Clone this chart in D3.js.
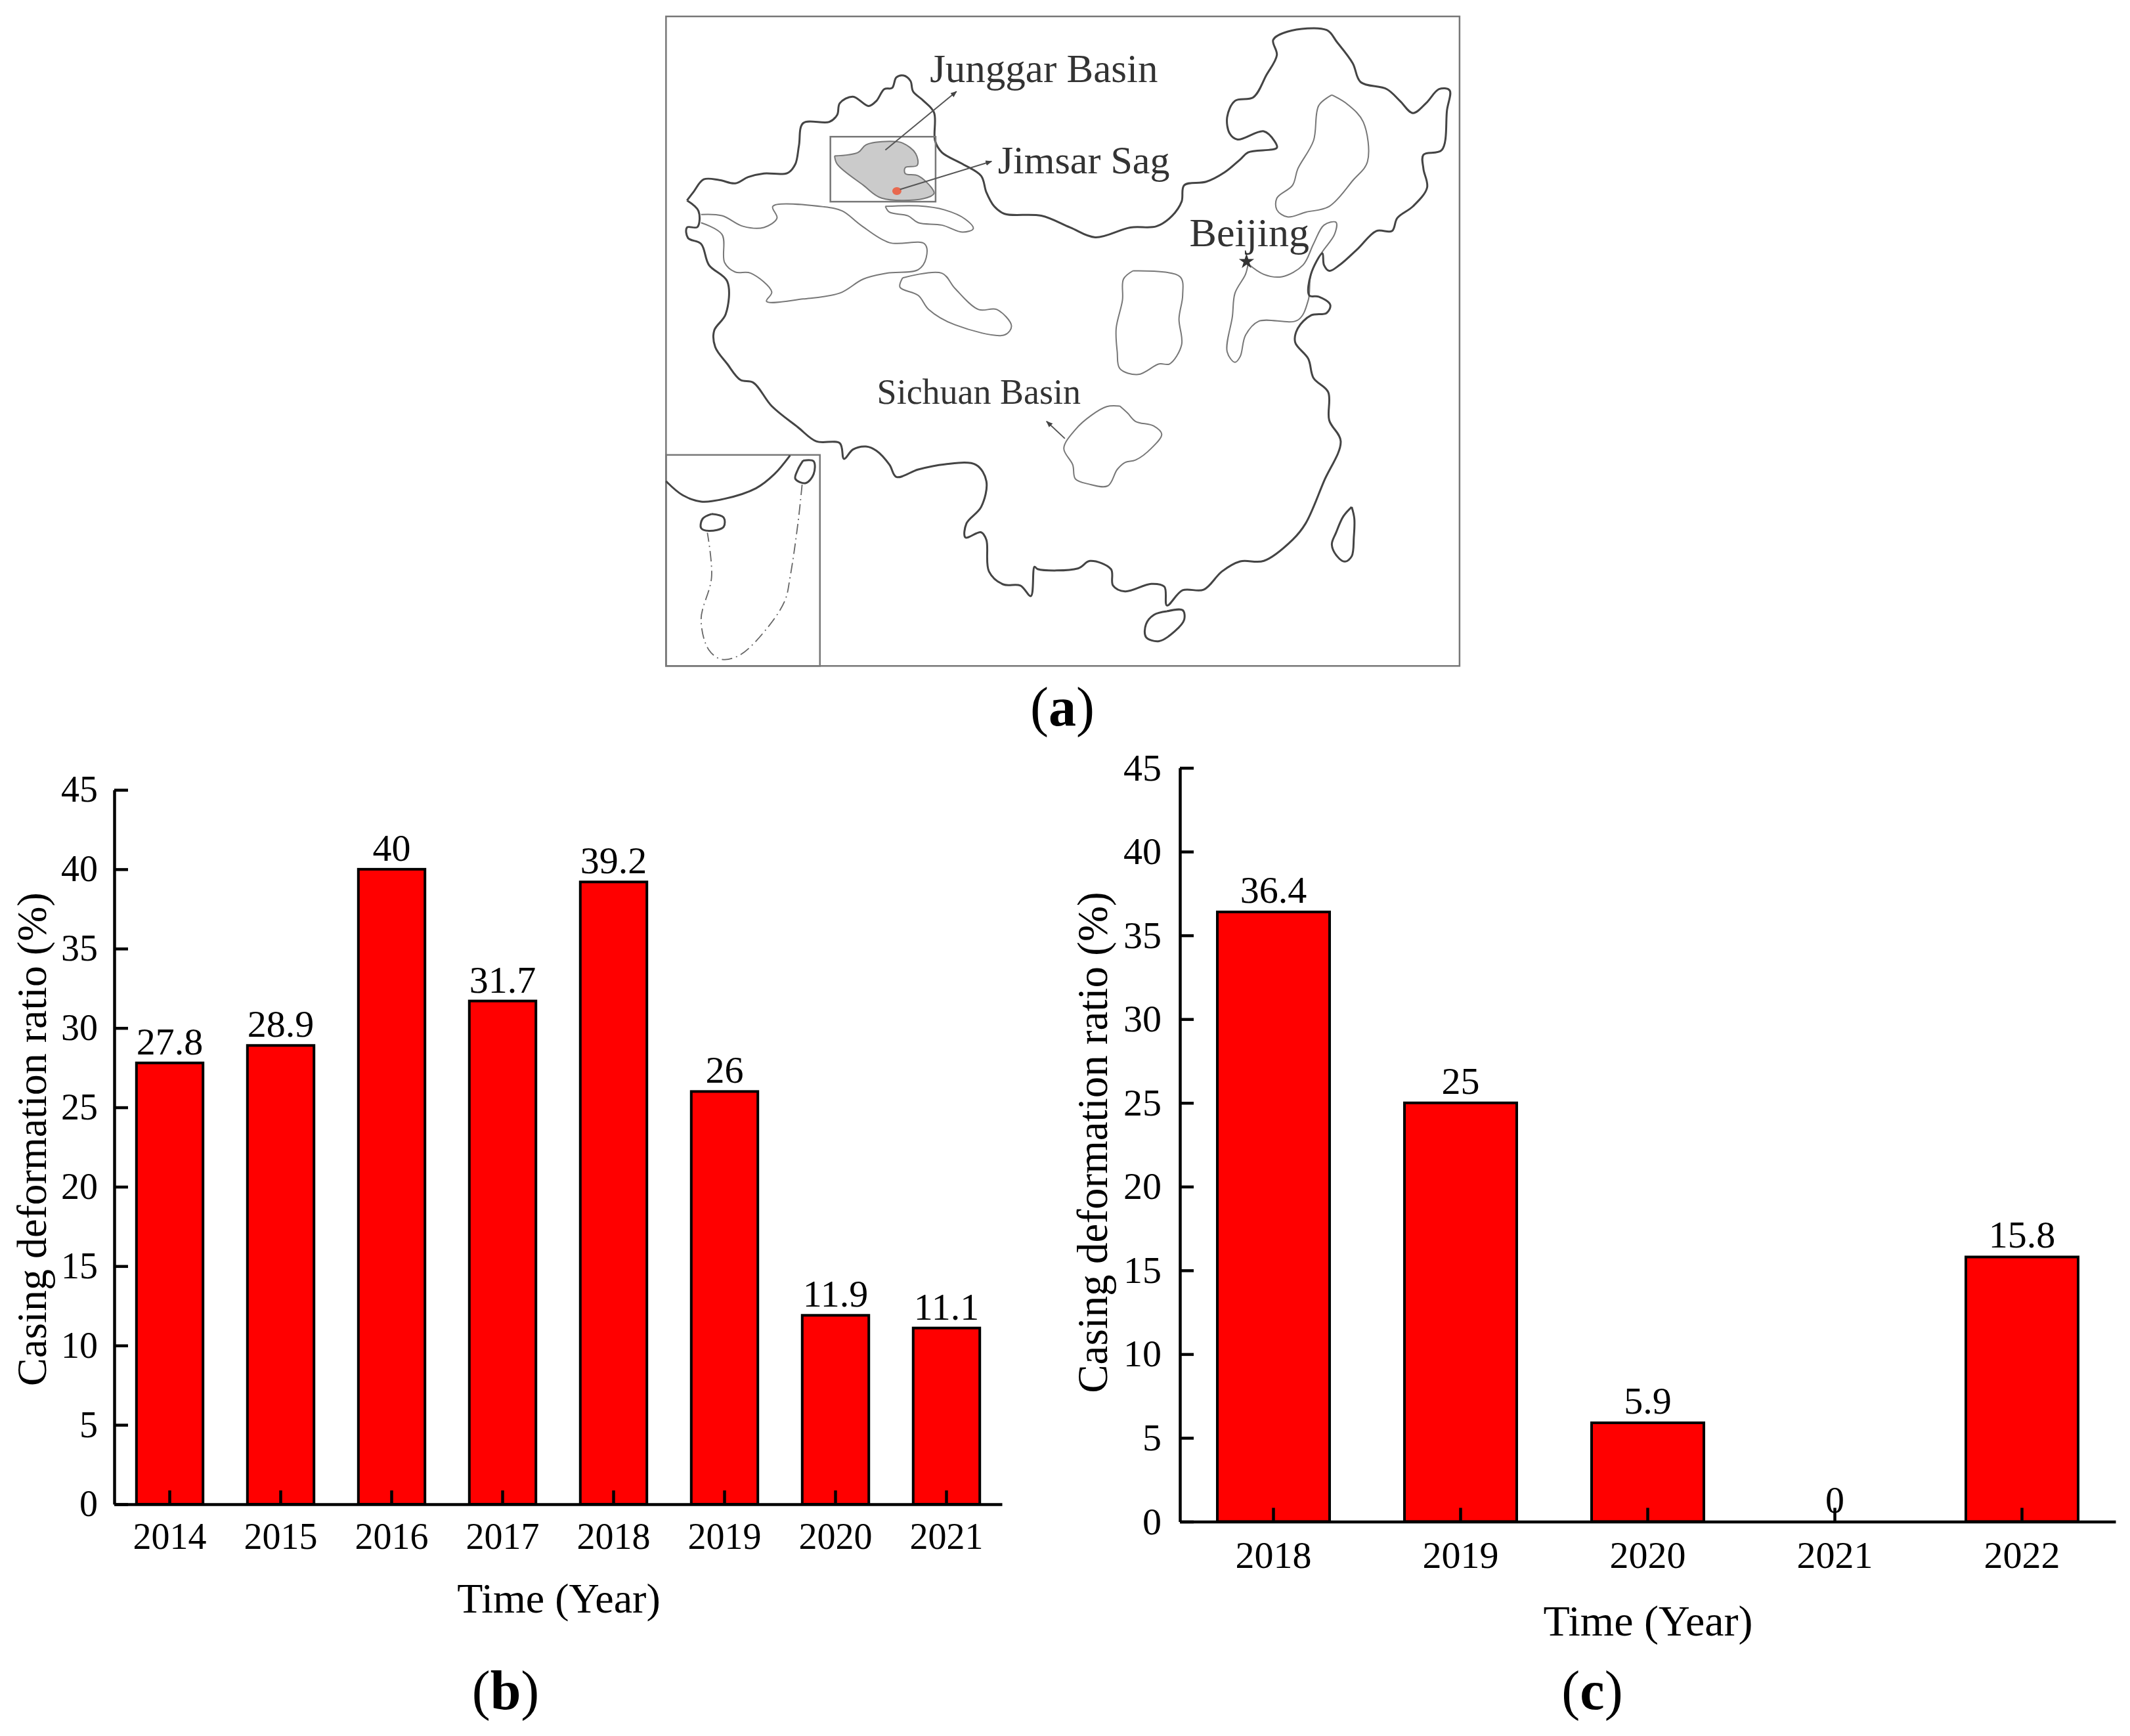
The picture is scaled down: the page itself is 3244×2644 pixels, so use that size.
<!DOCTYPE html>
<html>
<head>
<meta charset="utf-8">
<title>Casing deformation ratio</title>
<script src="https://d3js.org/d3.v7.min.js"></script>
<style>
  body { margin: 0; background: #fff; }
  text { font-family: "Liberation Serif", serif; fill: #000; }
  .map-label { fill: #333; }
</style>
</head>
<body>
<div id="chart"></div>
<script>
// panel (b)
var yearsB = ["2014", "2015", "2016", "2017", "2018", "2019", "2020", "2021"];
var ratioB = [27.8, 28.9, 40, 31.7, 39.2, 26, 11.9, 11.1];
// panel (c)
var yearsC = ["2018", "2019", "2020", "2021", "2022"];
var ratioC = [36.4, 25, 5.9, 0, 15.8];
var yTicks = [0, 5, 10, 15, 20, 25, 30, 35, 40, 45];

// map outlines in trace units (see mapX / mapY)
var chinaOutline = [[58,855],[70,820],[90,765],[120,768],[150,782],[175,755],[205,740],[250,738],[265,700],[272,620],[280,525],[330,520],[345,490],[350,440],[375,412],[405,452],[420,430],[435,380],[450,375],[458,330],[472,322],[485,345],[490,390],[510,430],[530,480],[532,600],[545,650],[585,700],[620,750],[630,820],[645,880],[665,912],[735,920],[790,970],[838,1012],[905,970],[955,965],[985,920],[1003,860],[1008,790],[1050,775],[1085,735],[1115,680],[1130,650],[1185,630],[1180,600],[1160,560],[1110,595],[1095,570],[1090,500],[1105,430],[1140,415],[1165,320],[1185,235],[1178,170],[1205,135],[1280,128],[1300,180],[1330,270],[1345,350],[1395,380],[1420,430],[1445,482],[1470,440],[1495,380],[1515,385],[1510,470],[1500,640],[1465,660],[1465,720],[1472,800],[1445,880],[1415,930],[1405,985],[1375,985],[1340,1060],[1305,1130],[1285,1155],[1275,1130],[1272,1080],[1250,1170],[1247,1260],[1265,1265],[1287,1300],[1280,1335],[1250,1345],[1225,1400],[1220,1460],[1245,1530],[1255,1612],[1283,1672],[1285,1792],[1307,1882],[1275,2052],[1240,2232],[1215,2302],[1160,2392],[1115,2394],[1080,2437],[1045,2515],[1005,2517],[975,2582],[970,2502],[945,2490],[895,2522],[872,2497],[868,2427],[828,2392],[805,2424],[728,2427],[722,2417],[715,2542],[695,2497],[662,2492],[635,2437],[630,2302],[620,2270],[590,2292],[592,2232],[620,2162],[630,2052],[610,1982],[550,1980],[500,2002],[458,2034],[445,1982],[420,1922],[400,1904],[375,1917],[358,1957],[350,1890],[305,1882],[270,1822],[220,1732],[185,1632],[160,1620],[135,1552],[112,1480],[110,1410],[132,1340],[135,1200],[100,1130],[85,1040],[60,1015],[58,970],[78,968],[80,900],[58,855]];
var taiwan = [[1328,2162],[1312,2202],[1298,2272],[1290,2322],[1300,2372],[1315,2395],[1328,2372],[1332,2292],[1333,2212],[1328,2162]];
var hainan = [[975,2607],[1005,2602],[1008,2642],[990,2692],[960,2734],[935,2717],[935,2662],[950,2622],[975,2607]];
var insetCoast = [[18,2052],[50,2112],[85,2139],[130,2127],[190,2082],[225,2022],[255,1942]];
var insetIslandA = [[280,1964],[300,1967],[300,2022],[285,2060],[265,2042],[270,2002],[280,1964]];
var insetIslandB = [[105,2192],[128,2207],[128,2247],[100,2264],[85,2252],[88,2212],[105,2192]];
var nineDash = [[278,2067],[270,2232],[255,2462],[245,2562],[210,2682],[160,2792],[125,2812],[100,2772],[85,2642],[105,2462],[97,2272]];

var sichuanBasin = [[885,1732],[860,1734],[830,1772],[800,1832],[778,1912],[795,1982],[800,2042],[825,2064],[862,2072],[880,2002],[895,1972],[915,1962],[945,1912],[965,1852],[950,1817],[915,1797],[900,1762],[885,1732]];
var ordosBasin = [[910,1155],[1000,1180],[1005,1260],[998,1360],[1003,1470],[980,1552],[960,1552],[920,1597],[885,1572],[880,1500],[878,1400],[890,1280],[892,1190],[910,1155]];
var songliaoBasin = [[1290,405],[1320,445],[1350,520],[1358,690],[1330,770],[1285,880],[1240,905],[1205,925],[1185,895],[1185,845],[1215,790],[1225,720],[1255,600],[1265,450],[1290,405]];
var bohaiBasin = [[1130,1125],[1160,1170],[1195,1180],[1235,1130],[1255,1040],[1275,960],[1298,948],[1295,1000],[1270,1080],[1250,1170],[1245,1280],[1225,1365],[1150,1370],[1125,1430],[1115,1520],[1105,1545],[1090,1500],[1100,1350],[1105,1250],[1125,1170],[1130,1125]];
var tarimBasin = [[85,915],[125,920],[165,965],[205,970],[230,930],[222,880],[320,882],[355,900],[390,960],[445,1035],[512,1040],[515,1100],[500,1150],[440,1165],[395,1190],[350,1250],[280,1275],[210,1285],[220,1245],[180,1165],[150,1160],[130,1120],[125,1000],[85,950]];
var qaidamBasin = [[470,1185],[545,1165],[570,1230],[615,1320],[650,1320],[678,1390],[665,1428],[570,1385],[520,1320],[500,1260],[465,1225],[470,1185]];
var turpanBasin = [[437,880],[500,878],[550,895],[590,935],[605,975],[585,990],[545,960],[500,950],[480,920],[445,905],[437,880]];
var junggarBasin = [[340,665],[385,650],[400,618],[445,603],[470,610],[495,655],[498,705],[475,715],[475,740],[500,750],[525,800],[530,825],[510,847],[430,845],[395,790],[345,700],[340,665]];

var svgWidth = 3244;
var svgHeight = 2644;

var svg = d3.select("#chart")
  .append("svg")
  .attr("width", svgWidth)
  .attr("height", svgHeight);

// ---- panel (a): the map ----
var mapX = d3.scaleLinear().domain([0, 1568]).range([1000, 2250]);
var mapY = d3.scaleLinear().domain([0, 2800]).range([0, 1000]);

var mapLine = d3.line()
  .x(d => mapX(d[0]))
  .y(d => mapY(d[1]))
  .curve(d3.curveCatmullRom.alpha(0.5));

var mapGroup = svg.append("g").attr("fill", "none");

mapGroup.append("rect")
  .attr("x", mapX(18)).attr("y", mapY(70))
  .attr("width", mapX(1534) - mapX(18)).attr("height", mapY(2840) - mapY(70))
  .attr("stroke", "#777").attr("stroke-width", 2.5);

mapGroup.append("rect")
  .attr("x", mapX(18)).attr("y", mapY(1940))
  .attr("width", mapX(312) - mapX(18)).attr("height", mapY(2840) - mapY(1940))
  .attr("stroke", "#777").attr("stroke-width", 2.5);

[sichuanBasin, ordosBasin, songliaoBasin, bohaiBasin, tarimBasin, qaidamBasin, turpanBasin].forEach(function(basin) {
  mapGroup.append("path").attr("d", mapLine(basin))
    .attr("stroke", "#777").attr("stroke-width", 2);
});

mapGroup.append("path").attr("d", mapLine(junggarBasin))
  .attr("fill", "#cbcbcb").attr("stroke", "#777").attr("stroke-width", 2);

[chinaOutline, taiwan, hainan, insetCoast, insetIslandA, insetIslandB].forEach(function(outline) {
  mapGroup.append("path").attr("d", mapLine(outline))
    .attr("stroke", "#444").attr("stroke-width", 3);
});

mapGroup.append("path").attr("d", mapLine(nineDash))
  .attr("stroke", "#666").attr("stroke-width", 1.8)
  .attr("stroke-dasharray", "16 6 2 6");

// Junggar box
mapGroup.append("rect")
  .attr("x", mapX(332)).attr("y", mapY(583))
  .attr("width", mapX(533) - mapX(332)).attr("height", mapY(860) - mapY(583))
  .attr("stroke", "#777").attr("stroke-width", 2.5);

// Jimsar Sag dot
mapGroup.append("ellipse")
  .attr("cx", mapX(459)).attr("cy", mapY(815))
  .attr("rx", 7).attr("ry", 6)
  .attr("fill", "#e8694f");

// leader arrows
svg.append("defs").append("marker")
  .attr("id", "arrow")
  .attr("viewBox", "0 0 10 8")
  .attr("refX", 9).attr("refY", 4)
  .attr("markerWidth", 10).attr("markerHeight", 8)
  .attr("markerUnits", "userSpaceOnUse")
  .attr("orient", "auto")
  .append("path").attr("d", "M0,0L10,4L0,8Z").attr("fill", "#444");

var arrows = [
  [[437, 640], [573, 390]],
  [[465, 808], [640, 688]],
  [[780, 1870], [745, 1797]]
];
mapGroup.selectAll(".arrow")
  .data(arrows)
  .enter()
  .append("line")
  .classed("arrow", true)
  .attr("x1", d => mapX(d[0][0])).attr("y1", d => mapY(d[0][1]))
  .attr("x2", d => mapX(d[1][0])).attr("y2", d => mapY(d[1][1]))
  .attr("stroke", "#555").attr("stroke-width", 2)
  .attr("marker-end", "url(#arrow)");

// Beijing star
mapGroup.append("path")
  .attr("d", d3.symbol().type(d3.symbolStar).size(170))
  .attr("transform", `translate(${mapX(1127)}, ${mapY(1115)})`)
  .attr("fill", "#333");

var mapLabels = [
  { text: "Junggar Basin", x: 522, y: 350, size: 61 },
  { text: "Jimsar Sag", x: 652, y: 740, size: 60 },
  { text: "Beijing", x: 1018, y: 1050, size: 62 },
  { text: "Sichuan Basin", x: 421, y: 1722, size: 54 }
];
svg.selectAll(".map-label")
  .data(mapLabels)
  .enter()
  .append("text")
  .classed("map-label", true)
  .attr("x", d => mapX(d.x))
  .attr("y", d => mapY(d.y))
  .attr("font-size", d => d.size)
  .text(d => d.text);

// ---- panels (b) and (c): bar charts ----
function drawBars(opts) {
  var xScale = d3.scaleBand()
    .domain(opts.years)
    .range([opts.left, opts.right])
    .paddingInner(0.4)
    .paddingOuter(0.2);

  var yScale = d3.scaleLinear()
    .domain([0, 45])
    .range([opts.bottom, opts.top]);

  var g = svg.append("g");

  g.selectAll(".bar")
    .data(opts.values)
    .enter()
    .append("rect")
    .classed("bar", true)
    .attr("x", (d, i) => xScale(opts.years[i]))
    .attr("y", d => yScale(d))
    .attr("width", xScale.bandwidth())
    .attr("height", d => opts.bottom - yScale(d))
    .attr("fill", "#ff0000")
    .attr("stroke", "#000")
    .attr("stroke-width", 4);

  g.selectAll(".bar-label")
    .data(opts.values)
    .enter()
    .append("text")
    .classed("bar-label", true)
    .attr("x", (d, i) => xScale(opts.years[i]) + xScale.bandwidth() / 2)
    .attr("y", d => yScale(d) - opts.labelGap)
    .attr("text-anchor", "middle")
    .attr("font-size", opts.labelSize)
    .text(d => d);

  var xAxis = g.append("g")
    .attr("transform", `translate(0, ${opts.bottom})`)
    .call(d3.axisBottom(xScale).tickSizeInner(-21).tickSizeOuter(0).tickPadding(opts.xPad));

  var yAxis = g.append("g")
    .attr("transform", `translate(${opts.left}, 0)`)
    .call(d3.axisLeft(yScale).tickValues(yTicks).tickSizeInner(-21).tickSizeOuter(0).tickPadding(opts.yPad));

  [xAxis, yAxis].forEach(function(axis) {
    axis.select(".domain").attr("stroke", "#000").attr("stroke-width", 4.5);
    axis.selectAll(".tick line").attr("stroke", "#000").attr("stroke-width", 4.5);
    axis.selectAll("text")
      .attr("font-family", "Liberation Serif")
      .attr("font-size", opts.fontSize)
      .attr("fill", "#000");
  });

  g.append("text")
    .attr("x", opts.xTitleX)
    .attr("y", opts.xTitleY)
    .attr("text-anchor", "middle")
    .attr("font-size", opts.titleSize)
    .text("Time (Year)");

  g.append("text")
    .attr("transform", `translate(${opts.yTitleX}, ${opts.yTitleY}) rotate(-90)`)
    .attr("text-anchor", "middle")
    .attr("font-size", opts.yTitleSize)
    .text("Casing deformation ratio (%)");
}

drawBars({
  years: yearsB, values: ratioB,
  left: 174, right: 1526, top: 1203, bottom: 2291,
  fontSize: 56, labelSize: 58, titleSize: 64, yTitleSize: 64, labelGap: 13, xPad: 28, yPad: 25,
  xTitleX: 851, xTitleY: 2456, yTitleX: 70, yTitleY: 1735
});

drawBars({
  years: yearsC, values: ratioC,
  left: 1797, right: 3222, top: 1169.5, bottom: 2317.5,
  fontSize: 58, labelSize: 58, titleSize: 66, yTitleSize: 65, labelGap: 14, xPad: 29, yPad: 28,
  xTitleX: 2510, xTitleY: 2491, yTitleX: 1686, yTitleY: 1740
});

// ---- panel captions ----
var captions = [
  { letter: "a", x: 1618, y: 1105 },
  { letter: "b", x: 770, y: 2603 },
  { letter: "c", x: 2425, y: 2603 }
];
captions.forEach(function(c) {
  var t = svg.append("text")
    .attr("x", c.x).attr("y", c.y)
    .attr("text-anchor", "middle")
    .attr("font-size", 84);
  t.append("tspan").text("(");
  t.append("tspan").attr("font-weight", "bold").text(c.letter);
  t.append("tspan").text(")");
});
</script>
</body>
</html>
